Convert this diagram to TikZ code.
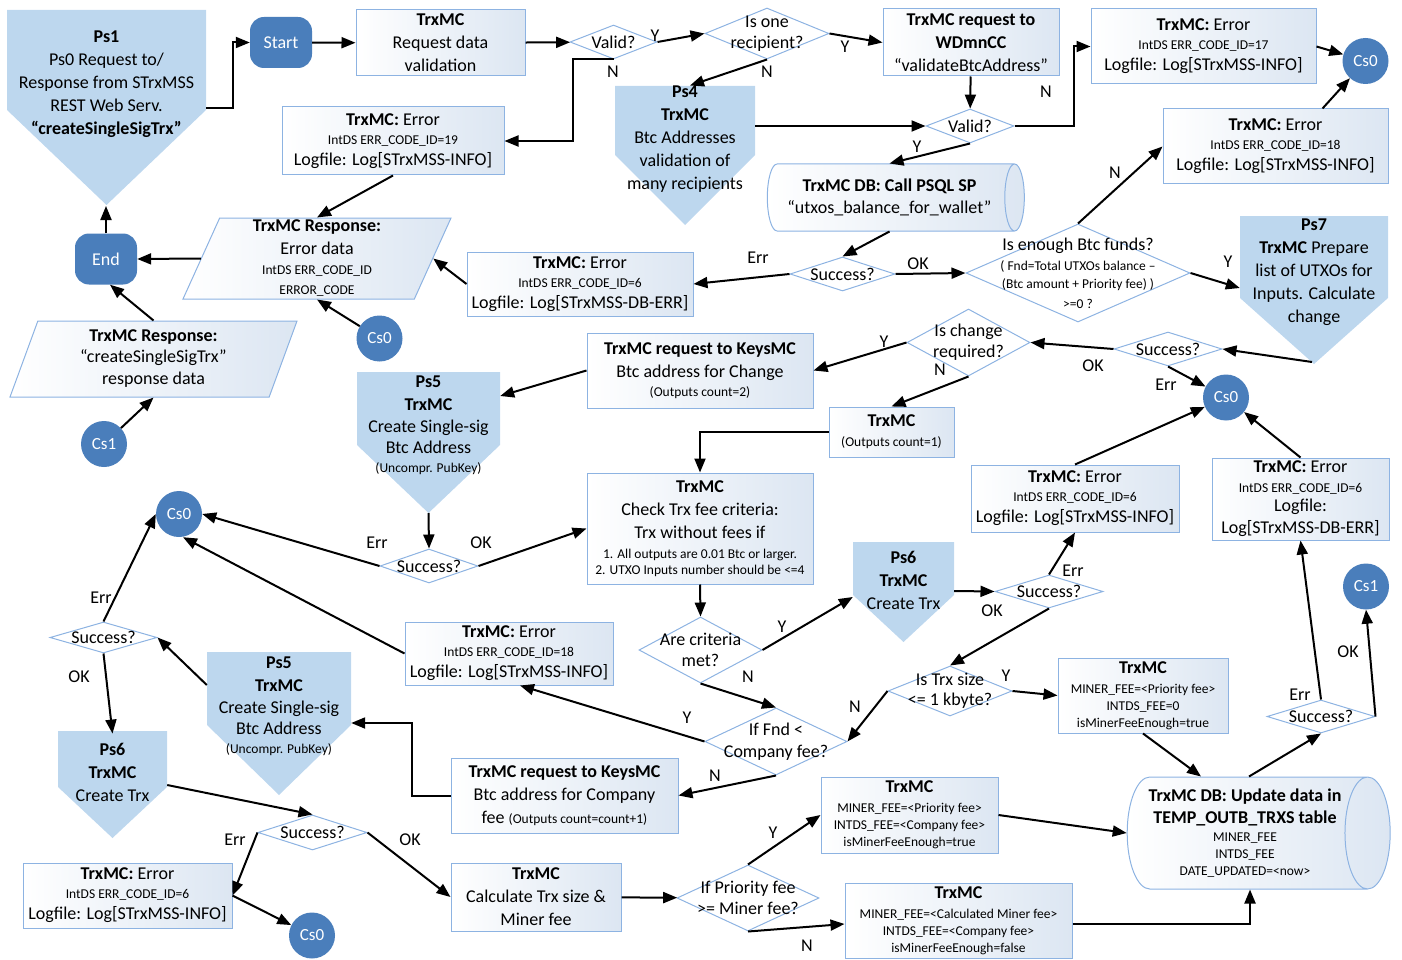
\documentclass[tikz,border=0pt]{standalone}
\usepackage{fontspec}
\setmainfont{Carlito}
\usepackage{tikz}
\usetikzlibrary{arrows.meta,shapes.geometric}
\definecolor{psfill}{HTML}{BDD7EE}
\definecolor{csfill}{HTML}{4A7EBB}
\definecolor{boxline}{HTML}{8DB3E2}
\definecolor{boxfill}{HTML}{DCE6F2}
\newcommand{\mainfnt}{\fontsize{18}{23}\selectfont}
\newcommand{\smallfnt}{\fontsize{13.5}{16}\selectfont}

\begin{document}
\begin{tikzpicture}[
  x=1pt, y=-1pt,
  font=\mainfnt,
  box/.style={draw=boxline, line width=1pt, left color=white, right color=boxfill, align=center, inner sep=1pt},
  db/.style={box, cylinder, aspect=0.5},
  io/.style={box, trapezium, trapezium left angle=65, trapezium right angle=115, trapezium stretches body},
  dec/.style={diamond, draw=boxline, line width=1pt, fill=white, inner sep=0pt},
  dtxt/.style={align=center, inner sep=0pt},
  term/.style={rectangle, rounded corners=14pt, fill=csfill, text=white, minimum width=62, minimum height=51, inner sep=0pt},
  conn/.style={circle, fill=csfill, text=white, minimum size=46, inner sep=0pt, font=\fontsize{17}{20}\selectfont},
  ps/.style={fill=psfill},
  pstxt/.style={align=center, inner sep=0pt},
  arr/.style={-{Triangle[length=14pt,width=11pt]}, line width=2pt},
  yn/.style={inner sep=0pt}
]
\useasboundingbox (0,0) rectangle (1402,960);

% Process shapes (off-page style)
\fill[ps] (7,10) -- (206,10) -- (206,110) -- (106.5,205) -- (7,110) -- cycle;
\fill[ps] (615,86) -- (755,86) -- (755,155) -- (685,225) -- (615,155) -- cycle;
\fill[ps] (357,372) -- (500,372) -- (500,445) -- (428.5,513) -- (357,445) -- cycle;
\fill[ps] (207,652) -- (351,652) -- (351,725) -- (279,795) -- (207,725) -- cycle;
\fill[ps] (58,731) -- (167,731) -- (167,787) -- (112.5,838) -- (58,787) -- cycle;
\fill[ps] (853,542) -- (954,542) -- (954,595) -- (903.5,642) -- (853,595) -- cycle;
\fill[ps] (1240,216) -- (1388,216) -- (1388,298) -- (1314,364) -- (1240,298) -- cycle;
\coordinate (ps1tip) at (106,206);
\coordinate (ps5atip) at (428.5,513);
\coordinate (ps7tip) at (1312,362);

\node[pstxt, minimum width=199] (ps1) at (106.5,84) {\textbf{Ps1}\\Ps0 Request to/\\Response from STrxMSS\\REST Web Serv.\\\textbf{“createSingleSigTrx”}};
\node[pstxt, minimum width=140] (ps4) at (685,139) {\textbf{Ps4}\\\textbf{TrxMC}\\Btc Addresses\\validation of\\many recipients};
\node[pstxt, minimum width=143] (ps5a) at (428.5,425) {\textbf{Ps5}\\\textbf{TrxMC}\\[-1pt]Create Single-sig\\[-2pt]Btc Address\\[-4pt]{\smallfnt (Uncompr. PubKey)}};
\node[pstxt, minimum width=144] (ps5b) at (279,706) {\textbf{Ps5}\\\textbf{TrxMC}\\[-1pt]Create Single-sig\\[-2pt]Btc Address\\[-4pt]{\smallfnt (Uncompr. PubKey)}};
\node[pstxt, minimum width=109] (ps6a) at (112.5,772) {\textbf{Ps6}\\\textbf{TrxMC}\\Create Trx};
\node[pstxt, minimum width=101] (ps6b) at (903.5,580) {\textbf{Ps6}\\\textbf{TrxMC}\\Create Trx};
\node[pstxt, minimum width=148] (ps7) at (1314,272) {\textbf{Ps7}\\\textbf{TrxMC} Prepare\\list of UTXOs for\\Inputs. Calculate\\change};

% Terminals and connectors
\node[term] (start) at (281,42.5) {Start};
\node[term] (fin) at (106,259) {End};
\node[conn] (cs0a) at (1365.5,61) {Cs0};
\node[conn] (cs0b) at (379.5,338.5) {Cs0};
\node[conn] (cs1a) at (104,444) {Cs1};
\node[conn] (cs0c) at (1226,397.5) {Cs0};
\node[conn] (cs0d) at (179,514) {Cs0};
\node[conn] (cs1b) at (1366,586.5) {Cs1};
\node[conn] (cs0e) at (312,935.5) {Cs0};

% Boxes
\node[box, minimum width=169, minimum height=66] (req) at (440.5,43) {\textbf{TrxMC}\\Request data\\validation};
\node[box, minimum width=222, minimum height=68] (err19) at (393,141) {\textbf{TrxMC:} Error\\[-4pt]{\smallfnt IntDS ERR\_CODE\_ID=19}\\[-2pt]Logfile: Log[STrxMSS-INFO]};
\node[box, minimum width=176, minimum height=67] (wdmn) at (971,42.5) {\textbf{TrxMC request to}\\\textbf{WDmnCC}\\“validateBtcAddress”};
\node[box, minimum width=225, minimum height=75] (err17) at (1203.5,46.5) {\textbf{TrxMC:} Error\\[-4pt]{\smallfnt IntDS ERR\_CODE\_ID=17}\\[-2pt]Logfile: Log[STrxMSS-INFO]};
\node[box, minimum width=225, minimum height=75] (err18a) at (1275.5,146.5) {\textbf{TrxMC:} Error\\[-4pt]{\smallfnt IntDS ERR\_CODE\_ID=18}\\[-2pt]Logfile: Log[STrxMSS-INFO]};
\node[box, minimum width=226, minimum height=64] (err6a) at (580,284) {\textbf{TrxMC:} Error\\[-4pt]{\smallfnt IntDS ERR\_CODE\_ID=6}\\[-2pt]Logfile: Log[STrxMSS-DB-ERR]};
\node[box, minimum width=226, minimum height=75] (keyschg) at (700,370.5) {\textbf{TrxMC request to KeysMC}\\Btc address for Change\\[-4pt]{\smallfnt (Outputs count=2)}};
\node[box, minimum width=125, minimum height=50] (trxmc1) at (891.5,432) {\textbf{TrxMC}\\[-3pt]{\smallfnt (Outputs count=1)}};
\node[box, minimum width=226, minimum height=111] (check) at (700,528.5) {\textbf{TrxMC}\\Check Trx fee criteria:\\Trx without fees if\\[-3pt]{\smallfnt 1. All outputs are 0.01 Btc or larger.}\\[-7pt]{\smallfnt 2. UTXO Inputs number should be <=4}};
\node[box, minimum width=208, minimum height=67] (err6b) at (1075,498.5) {\textbf{TrxMC:} Error\\[-4pt]{\smallfnt IntDS ERR\_CODE\_ID=6}\\[-2pt]Logfile: Log[STrxMSS-INFO]};
\node[box, minimum width=177, minimum height=82] (err6c) at (1300.5,499) {\textbf{TrxMC:} Error\\[-3pt]{\smallfnt IntDS ERR\_CODE\_ID=6}\\[-4pt]Logfile:\\[-1pt]Log[STrxMSS-DB-ERR]};
\node[box, minimum width=208, minimum height=63] (err18b) at (509,653.5) {\textbf{TrxMC:} Error\\[-4pt]{\smallfnt IntDS ERR\_CODE\_ID=18}\\[-2pt]Logfile: Log[STrxMSS-INFO]};
\node[box, minimum width=170, minimum height=75] (mfee1) at (1143,695.5) {\textbf{TrxMC}\\[-3pt]{\smallfnt MINER\_FEE=<Priority fee>}\\[-6pt]{\smallfnt INTDS\_FEE=0}\\[-6pt]{\smallfnt isMinerFeeEnough=true}};
\node[box, minimum width=227, minimum height=75] (keyscomp) at (564.5,795.5) {\textbf{TrxMC request to KeysMC}\\Btc address for Company\\fee {\smallfnt (Outputs count=count+1)}};
\node[box, minimum width=177, minimum height=76] (mfee2) at (909.5,815) {\textbf{TrxMC}\\[-3pt]{\smallfnt MINER\_FEE=<Priority fee>}\\[-6pt]{\smallfnt INTDS\_FEE=<Company fee>}\\[-6pt]{\smallfnt isMinerFeeEnough=true}};
\node[box, minimum width=209, minimum height=65] (err6d) at (127.5,895.5) {\textbf{TrxMC:} Error\\[-4pt]{\smallfnt IntDS ERR\_CODE\_ID=6}\\[-2pt]Logfile: Log[STrxMSS-INFO]};
\node[box, minimum width=170, minimum height=68] (calc) at (536,897) {\textbf{TrxMC}\\Calculate Trx size \&\\Miner fee};
\node[box, minimum width=227, minimum height=75] (mfee3) at (958.5,920.5) {\textbf{TrxMC}\\[-3pt]{\smallfnt MINER\_FEE=<Calculated Miner fee>}\\[-6pt]{\smallfnt INTDS\_FEE=<Company fee>}\\[-6pt]{\smallfnt isMinerFeeEnough=false}};

% Database and data shapes
\node[db, minimum width=67, minimum height=257] (psql) at (889.5,197.5) {\textbf{TrxMC DB: Call PSQL SP}\\[-1pt]“utxos\_balance\_for\_wallet”};
\node[db, minimum width=112, minimum height=263] (update) at (1245,833) {\textbf{TrxMC DB: Update data in}\\[-1pt]\textbf{TEMP\_OUTB\_TRXS table}\\[-5pt]{\smallfnt MINER\_FEE}\\[-6pt]{\smallfnt INTDS\_FEE}\\[-6pt]{\smallfnt DATE\_UPDATED=<now>}};
\node[io, minimum width=268, minimum height=81] (resp_err) at (317,258.5) {\textbf{TrxMC Response:}\\Error data\\[-3pt]{\smallfnt IntDS ERR\_CODE\_ID}\\[-3pt]{\smallfnt ERROR\_CODE}};
\node[io, minimum width=287, minimum height=76] (resp_ok) at (153.5,359) {\textbf{TrxMC Response:}\\[-2pt]“createSingleSigTrx”\\[-1pt]response data};

% Decisions
\node[dec, minimum width=87, minimum height=34, label={[dtxt]center:{Valid?}}] (valid1) at (613.5,42) {};
\node[dec, minimum width=124, minimum height=51, label={[dtxt]center:{Is one\\[-2pt]recipient?}}] (onerecip) at (767,33.5) {};
\node[dec, minimum width=88, minimum height=34, label={[dtxt]center:{Valid?}}] (valid2) at (970,126) {};
\node[dec, minimum width=105, minimum height=34, label={[dtxt]center:{Success?}}] (succ1) at (842.5,274) {};
\node[dec, minimum width=224, minimum height=98, label={[dtxt]center:{Is enough Btc funds?\\[-3pt]{\smallfnt ( Fnd=Total UTXOs balance –}\\[-5pt]{\smallfnt (Btc amount + Priority fee) )}\\[-3pt]{\smallfnt >=0 ?}}}] (funds) at (1078,273) {};
\node[dec, minimum width=123, minimum height=67, label={[dtxt]center:{Is change\\[-2pt]required?}}] (ischange) at (968.5,342.5) {};
\node[dec, minimum width=108, minimum height=34, label={[dtxt]center:{Success?}}] (succ2) at (1168,349) {};
\node[dec, minimum width=98, minimum height=34, label={[dtxt]center:{Success?}}] (succ3) at (429,566) {};
\node[dec, minimum width=123, minimum height=66, label={[dtxt]center:{Are criteria\\[-2pt]met?}}] (criteria) at (700.5,650) {};
\node[dec, minimum width=108, minimum height=33, label={[dtxt]center:{Success?}}] (succ4) at (1049,591.5) {};
\node[dec, minimum width=124, minimum height=50, label={[dtxt]center:{Is Trx size\\[-3pt]<= 1 kbyte?}}] (trxsize) at (950,691) {};
\node[dec, minimum width=107, minimum height=31, label={[dtxt]center:{Success?}}] (succ5) at (103.5,637.5) {};
\node[dec, minimum width=142, minimum height=67, label={[dtxt]center:{If Fnd <\\[-1pt]Company fee?}}] (fnd) at (776,741.5) {};
\node[dec, minimum width=108, minimum height=33, label={[dtxt]center:{Success?}}] (succ6) at (1321,716.5) {};
\node[dec, minimum width=109, minimum height=35, label={[dtxt]center:{Success?}}] (succ7) at (312.5,832.5) {};
\node[dec, minimum width=142, minimum height=66, label={[dtxt]center:{If Priority fee\\[-2pt]>= Miner fee?}}] (prio) at (748,898) {};

% Flows
\draw[arr] ([yshift=-24pt]ps1.east) -- ++(27,0) |- (start.west);
\draw[arr] (start) -- (req);
\draw[arr] (req) -- (valid1);
\draw[arr] (valid1.east) -- (onerecip.west) node[yn] at (655,36) {Y};
\draw[arr] (onerecip.east) -- (wdmn.west) node[yn] at (845,47) {Y};
\draw[arr] (onerecip.south) -- ([xshift=5pt]ps4.north) node[yn] at (767,72) {N};
\draw[arr] (valid1.south) -- ++(-41,0) |- (err19.east) node[yn] at (613,72) {N};
\draw[arr] (err19.south) -- (resp_err.north);
\draw[arr] (wdmn) -- (valid2);
\draw[arr] (valid2.east) -- ++(59,0) |- (err17.west) node[yn] at (1046,92) {N};
\draw[arr] ([yshift=13pt]ps4.east) -- (valid2.west);
\draw[arr] (valid2.south) -- (psql.north) node[yn] at (917,147) {Y};
\draw[arr] (err17.east) -- (cs0a);
\draw[arr] ([xshift=47pt]err18a.north) -- (cs0a);
\draw[arr] (psql.south) -- (succ1.north);
\draw[arr] (succ1.west) -- (err6a.east) node[yn] at (758,258) {Err};
\draw[arr] (succ1.east) -- (funds.west) node[yn] at (918,264) {OK};
\draw[arr] (funds.north) -- (err18a.west) node[yn] at (1115,173) {N};
\draw[arr] (funds.east) -- ([yshift=-16pt]ps7.west) node[yn] at (1228,262) {Y};
\draw[arr] (err6a.west) -- (resp_err.east);
\draw[arr] (cs0b) -- (resp_err.south);
\draw[arr] (resp_err.west) -- (fin.east);
\draw[arr] (fin.north) -- (ps1tip);
\draw[arr] (resp_ok.north) -- ([xshift=4pt]fin.south);
\draw[arr] (cs1a) -- (resp_ok.south);
\draw[arr] (ps7tip) -- (succ2.east);
\draw[arr] (succ2.west) -- (ischange.east) node[yn] at (1093,366) {OK};
\draw[arr] (succ2.south) -- (cs0c) node[yn] at (1166,385) {Err};
\draw[arr] (ischange.west) -- (keyschg.east) node[yn] at (884,342) {Y};
\draw[arr] (ischange.south) -- (trxmc1.north) node[yn] at (940,370) {N};
\draw[arr] (keyschg.west) -- ([yshift=29pt]ps5a.east);
\draw[arr] (trxmc1.west) -| (check.north);
\draw[arr] (ps5atip) -- (succ3.north);
\draw[arr] (succ3.east) -- (check.west) node[yn] at (481,543) {OK};
\draw[arr] (succ3.west) -- (cs0d.east) node[yn] at (377,543) {Err};
\draw[arr] (check.south) -- (criteria.north);
\draw[arr] (criteria.east) -- ([yshift=-17pt]ps6b.west) node[yn] at (782,627) {Y};
\draw[arr] (criteria.south) -- (fnd.north) node[yn] at (748,677) {N};
\draw[arr] ([yshift=-11pt]ps6b.east) -- (succ4.west);
\draw[arr] (succ4.north) -- (err6b.south) node[yn] at (1073,571) {Err};
\draw[arr] (succ4.south) -- (trxsize.north) node[yn] at (992,611) {OK};
\draw[arr] (err6b.north) -- (cs0c);
\draw[arr] (err6c.north) -- (cs0c);
\draw[arr] (trxsize.east) -- (mfee1.west) node[yn] at (1006,676) {Y};
\draw[arr] (trxsize.west) -- (fnd.east) node[yn] at (855,707) {N};
\draw[arr] (mfee1.south) -- ([xshift=-44pt]update.north);
\draw[arr] ([xshift=4pt]update.north) -- (succ6.south);
\draw[arr] (succ6.north) -- (err6c.south) node[yn] at (1300,695) {Err};
\draw[arr] (succ6.east) -- (cs1b.south) node[yn] at (1348,652) {OK};
\draw[arr] (fnd.west) -- ([xshift=11pt]err18b.south) node[yn] at (687,718) {Y};
\draw[arr] (fnd.south) -- (keyscomp.east) node[yn] at (715,776) {N};
\draw[arr] (keyscomp.west) -- ++(-39,0) |- ([yshift=-17pt]ps5b.east);
\draw[arr] (err18b.west) -- ([xshift=4pt]cs0d.south);
\draw[arr] ([yshift=21pt]ps5b.west) -- (succ5.east);
\draw[arr] (succ5.north) -- (cs0d.west) node[yn] at (101,598) {Err};
\draw[arr] (succ5.south) -- ([yshift=9pt]ps6a.north) node[yn] at (79,677) {OK};
\draw[arr] ([yshift=-13pt]ps6a.east) -- (succ7.north);
\draw[arr] (succ7.west) -- (err6d.east) node[yn] at (235,840) {Err};
\draw[arr] (err6d.east) -- (cs0e);
\draw[arr] (succ7.east) -- (calc.west) node[yn] at (410,840) {OK};
\draw[arr] (calc) -- (prio);
\draw[arr] (prio.north) -- (mfee2.west) node[yn] at (773,833) {Y};
\draw[arr] (prio.south) -- ([yshift=-3.5pt]mfee3.west) node[yn] at (807,946) {N};
\draw[arr] (mfee2.east) -- (update.west);
\draw[arr] ([yshift=-3.5pt]mfee3.east) -| ([xshift=5pt]update.south);
\end{tikzpicture}
\end{document}
